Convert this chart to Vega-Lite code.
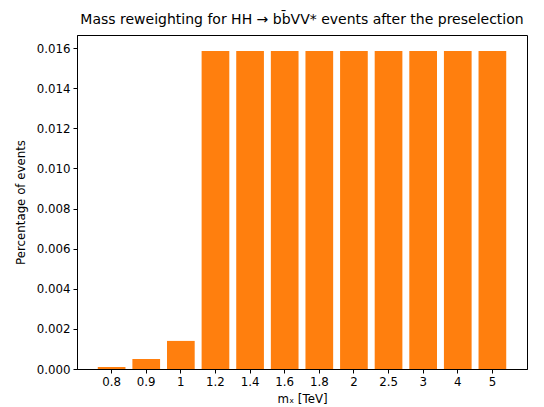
{
  "$schema": "https://vega.github.io/schema/vega-lite/v6.json",
  "width": 450,
  "height": 334,
  "autosize": {"type": "none"},
  "padding": {"left": 77, "top": 35, "right": 17, "bottom": 38},
  "background": "white",
  "title": {
    "text": "Mass reweighting for HH → bb̄VV* events after the preselection",
    "font": "DejaVu Sans",
    "fontSize": 14,
    "fontWeight": "normal",
    "color": "black",
    "anchor": "middle",
    "offset": 8
  },
  "config": {
    "view": {"stroke": "black", "strokeWidth": 1},
    "axis": {
      "labelFont": "DejaVu Sans",
      "labelFontSize": 11.8,
      "labelColor": "black",
      "titleFont": "DejaVu Sans",
      "titleFontSize": 11.8,
      "titleFontWeight": "normal",
      "titleColor": "black",
      "domainColor": "black",
      "tickColor": "black",
      "tickSize": 4,
      "labelPadding": 3,
      "grid": false
    }
  },
  "data": {
    "values": [
      {"mass": "0.8", "pct": 0.0001},
      {"mass": "0.9", "pct": 0.0005},
      {"mass": "1", "pct": 0.0014},
      {"mass": "1.2", "pct": 0.01585},
      {"mass": "1.4", "pct": 0.01585},
      {"mass": "1.6", "pct": 0.01585},
      {"mass": "1.8", "pct": 0.01585},
      {"mass": "2", "pct": 0.01585},
      {"mass": "2.5", "pct": 0.01585},
      {"mass": "3", "pct": 0.01585},
      {"mass": "4", "pct": 0.01585},
      {"mass": "5", "pct": 0.01585}
    ]
  },
  "mark": {"type": "bar", "color": "#ff7f0e"},
  "encoding": {
    "x": {
      "field": "mass",
      "type": "ordinal",
      "sort": null,
      "scale": {"paddingInner": 0.2, "paddingOuter": 0.6},
      "axis": {"title": "mₓ [TeV]", "labelAngle": 0, "titlePadding": 6}
    },
    "y": {
      "field": "pct",
      "type": "quantitative",
      "scale": {"domain": [0, 0.01665], "nice": false},
      "axis": {
        "title": "Percentage of events",
        "values": [0, 0.002, 0.004, 0.006, 0.008, 0.01, 0.012, 0.014, 0.016],
        "format": ".3f",
        "titlePadding": 10
      }
    }
  }
}
